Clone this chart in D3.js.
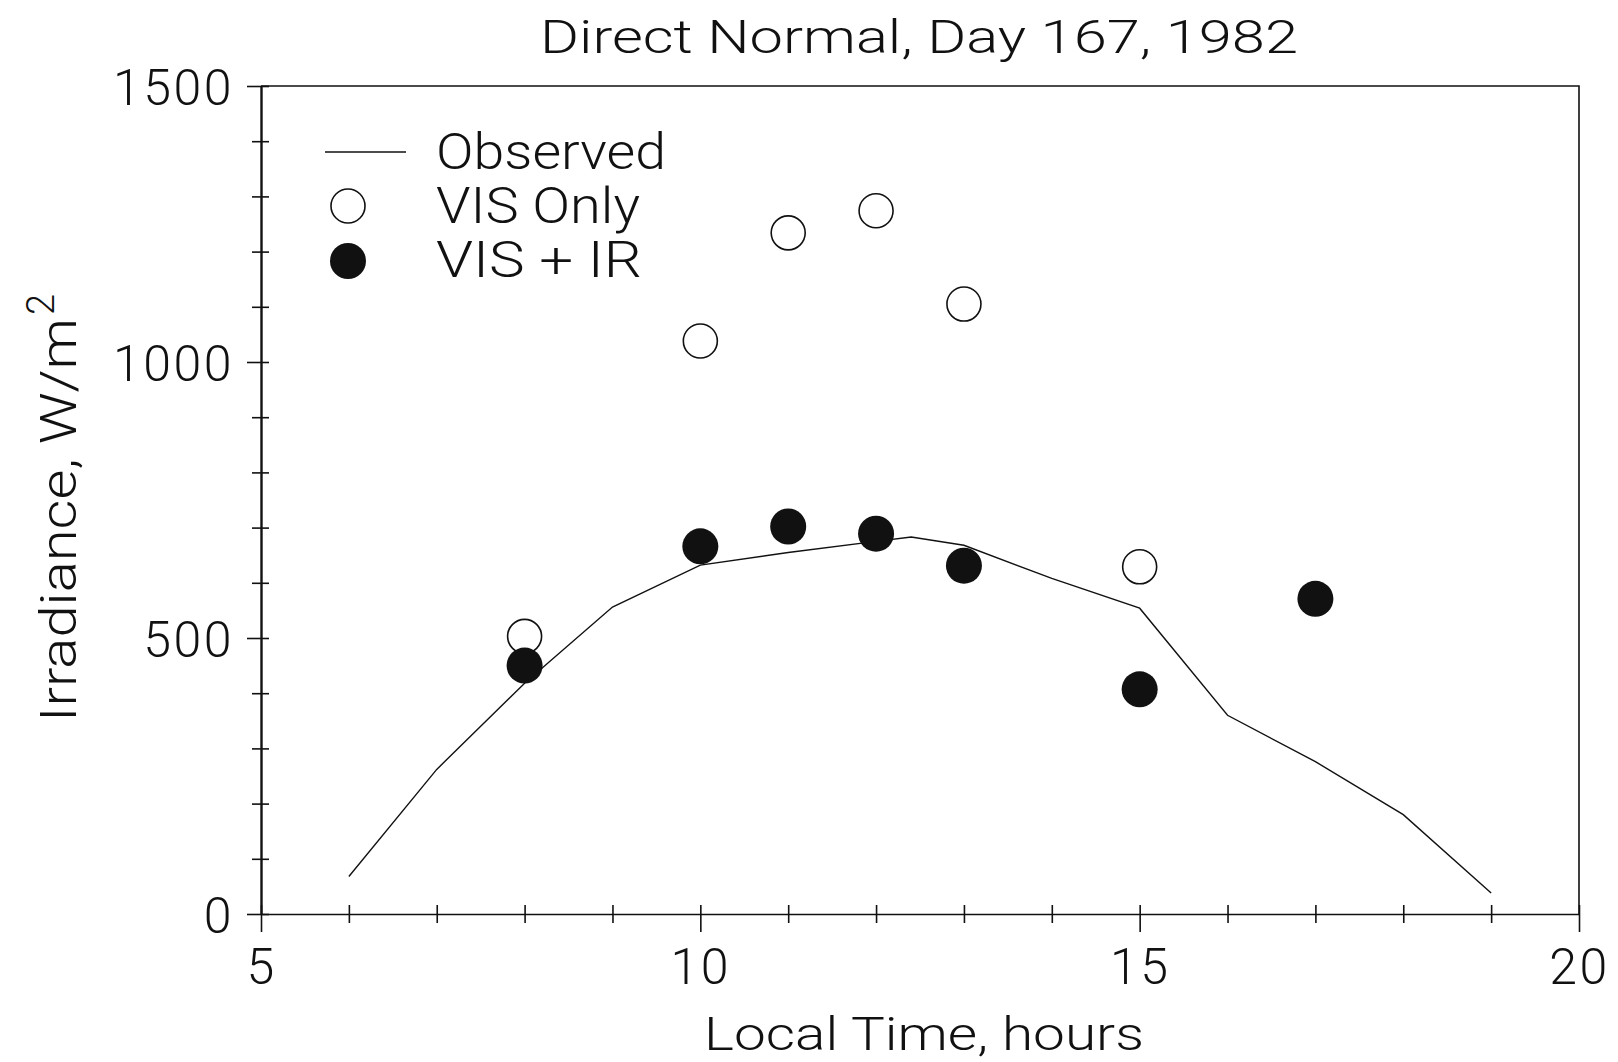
<!DOCTYPE html>
<html>
<head>
<meta charset="utf-8">
<script src="https://cdn.jsdelivr.net/npm/d3@7"></script>
<style>
  body { margin: 0; background: #fff; }
  text { font-family: Roboto, Lato, "DejaVu Sans", sans-serif; font-weight: 300; fill: #111; }
</style>
</head>
<body>
<div id="chart"></div>
<script>
// Data
const obsHours = [6, 7, 8, 9, 10, 11, 12, 12.4, 13, 14, 15, 16, 17, 18, 19];
const obsValues = [68, 262, 418, 556, 632, 655, 675, 683, 668, 608, 554, 360, 276, 180, 38];

const visHours = [8, 10, 11, 12, 13, 15];
const visValues = [503, 1038, 1234, 1274, 1105, 629];

const irHours = [8, 10, 11, 12, 13, 15, 17];
const irValues = [450, 666, 702, 689, 631, 407, 571];

const xTicks = d3.range(5, 21, 1);
const yTicks = d3.range(0, 1501, 100);

// Layout
const W = 1618, H = 1062;
const margin = { top: 86, right: 39, bottom: 148, left: 261 };
const width = W - margin.left - margin.right;
const height = H - margin.top - margin.bottom;

const svg = d3.select("#chart")
  .append("svg")
  .attr("width", W)
  .attr("height", H);

const g = svg.append("g")
  .attr("transform", "translate(" + margin.left + "," + margin.top + ")");

const x = d3.scaleLinear().domain([5, 20]).range([0, width]);
const y = d3.scaleLinear().domain([0, 1500]).range([height, 0]);

// Frame (top and right)
g.append("path")
  .attr("d", "M0,0H" + width + "V" + height)
  .attr("fill", "none")
  .attr("stroke", "#111")
  .attr("stroke-width", 1.6);

// Y axis
const yAxis = g.append("g")
  .call(d3.axisLeft(y)
    .tickValues(yTicks)
    .tickSizeInner(14)
    .tickSizeOuter(0)
    .tickPadding(13)
    .tickFormat(d => d % 500 == 0 ? d : ""));
yAxis.select(".domain").attr("stroke", "#111").attr("stroke-width", 2.4);
yAxis.selectAll(".tick line")
  .attr("x1", 8)
  .attr("x2", d => d % 500 == 0 ? -14 : -9)
  .attr("stroke", "#111")
  .attr("stroke-width", 1.6);
yAxis.selectAll(".tick text")
  .attr("font-size", 50)
  .attr("letter-spacing", 2.5)
  .attr("dy", "0.36em");

// X axis
const xAxis = g.append("g")
  .attr("transform", "translate(0," + height + ")")
  .call(d3.axisBottom(x)
    .tickValues(xTicks)
    .tickSizeInner(9)
    .tickSizeOuter(0)
    .tickPadding(25)
    .tickFormat(d => d % 5 == 0 ? d : ""));
xAxis.select(".domain").attr("stroke", "#111").attr("stroke-width", 1.6);
xAxis.selectAll(".tick line")
  .attr("y1", -9)
  .attr("y2", d => d % 5 == 0 ? 18 : 9)
  .attr("stroke", "#111")
  .attr("stroke-width", 1.6);
xAxis.selectAll(".tick text")
  .attr("font-size", 50)
  .attr("letter-spacing", 2.5)
  .attr("dy", "0.71em");

// Observed line
const obs = obsHours.map((h, i) => [h, obsValues[i]]);
g.append("path")
  .datum(obs)
  .attr("fill", "none")
  .attr("stroke", "#111")
  .attr("stroke-width", 1.4)
  .attr("d", d3.line().x(d => x(d[0])).y(d => y(d[1])));

// VIS only (open)
g.append("g")
  .selectAll("circle")
  .data(visHours.map((h, i) => [h, visValues[i]]))
  .join("circle")
  .attr("cx", d => x(d[0]))
  .attr("cy", d => y(d[1]))
  .attr("r", 17)
  .attr("fill", "none")
  .attr("stroke", "#111")
  .attr("stroke-width", 1.6);

// VIS + IR (filled)
g.append("g")
  .selectAll("circle")
  .data(irHours.map((h, i) => [h, irValues[i]]))
  .join("circle")
  .attr("cx", d => x(d[0]))
  .attr("cy", d => y(d[1]))
  .attr("r", 18)
  .attr("fill", "#111");

// Legend
const legend = svg.append("g");
legend.append("line")
  .attr("x1", 325).attr("x2", 406)
  .attr("y1", 152).attr("y2", 152)
  .attr("stroke", "#111").attr("stroke-width", 1.4);
legend.append("circle")
  .attr("cx", 348).attr("cy", 206).attr("r", 17)
  .attr("fill", "none").attr("stroke", "#111").attr("stroke-width", 1.6);
legend.append("circle")
  .attr("cx", 348).attr("cy", 261).attr("r", 18)
  .attr("fill", "#111");
const legendLabels = ["Observed", "VIS Only", "VIS + IR"];
const legendLen = [230, 204, 206];
legend.selectAll("text.lab")
  .data(legendLabels)
  .join("text")
  .attr("class", "lab")
  .attr("x", 436)
  .attr("y", (d, i) => 169 + i * 54)
  .attr("font-size", 50)
  .attr("textLength", (d, i) => legendLen[i])
  .attr("lengthAdjust", "spacingAndGlyphs")
  .text(d => d);

// Title
svg.append("text")
  .attr("x", 919)
  .attr("y", 53)
  .attr("text-anchor", "middle")
  .attr("font-size", 46)
  .attr("textLength", 758)
  .attr("lengthAdjust", "spacingAndGlyphs")
  .text("Direct Normal, Day 167, 1982");

// X label
svg.append("text")
  .attr("x", 924)
  .attr("y", 1050)
  .attr("text-anchor", "middle")
  .attr("font-size", 46)
  .attr("textLength", 440)
  .attr("lengthAdjust", "spacingAndGlyphs")
  .text("Local Time, hours");

// Y label
const yl = svg.append("text")
  .attr("transform", "translate(76,722) rotate(-90)")
  .attr("font-size", 50);
yl.append("tspan")
  .attr("textLength", 404)
  .attr("lengthAdjust", "spacingAndGlyphs")
  .text("Irradiance, W/m");
yl.append("tspan").attr("dx", 3).attr("dy", -22).attr("font-size", 38).text("2");
</script>
</body>
</html>
